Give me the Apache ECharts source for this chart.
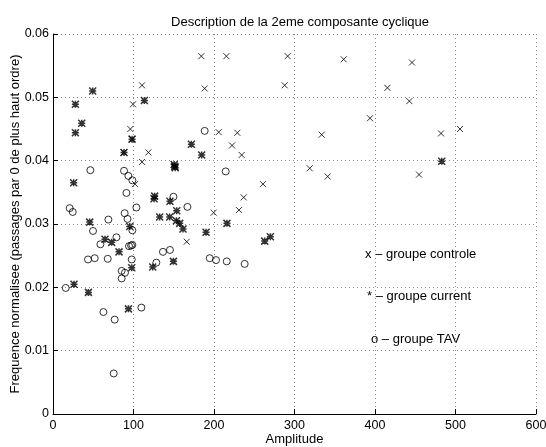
<!DOCTYPE html>
<html>
<head>
<meta charset="utf-8">
<script src="https://cdn.jsdelivr.net/npm/echarts@6/dist/echarts.min.js"></script>
<style>
  html, body { margin: 0; padding: 0; background: #fff; }
  #chart { width: 546px; height: 447px; }
</style>
</head>
<body>
<div id="chart"></div>
<script>
// x - groupe controle
const controleX = [184.3, 215.4, 188.4, 110.6, 99.4, 96.1, 98.2, 205.8, 229.0, 222.4, 234.4, 118.5, 110.6, 101.9, 260.9, 236.9, 199.6, 231.0, 166.1,
  291.5, 361.1, 446.0, 287.8, 415.4, 442.7, 393.8, 333.8, 482.0, 505.6, 318.9, 341.2, 454.7, 87.8];
const controleY = [0.0565, 0.0565, 0.0514, 0.0519, 0.0489, 0.0450, 0.0434, 0.0445, 0.0444, 0.0424, 0.0409, 0.0413, 0.0398, 0.0363, 0.0363, 0.0342, 0.0318, 0.0322, 0.0272,
  0.0565, 0.0560, 0.0555, 0.0519, 0.0515, 0.0494, 0.0467, 0.0441, 0.0443, 0.0450, 0.0388, 0.0375, 0.0378, 0.0413];

// * - groupe current
const currentX = [49.3, 27.8, 113.5, 35.7, 27.8, 98.2, 171.9, 184.7, 88.2, 150.5, 151.2, 151.8, 25.7, 126.3, 125.5, 145.3, 153.7, 45.6, 132.5, 144.9,
  153.3, 157.4, 161.5, 216.1, 95.3, 64.6, 72.9, 82.0, 97.8, 123.9, 149.6, 190.1, 263.0, 270.0, 26.1, 44.0, 93.7, 482.9];
const currentY = [0.0510, 0.0489, 0.0495, 0.0459, 0.0444, 0.0434, 0.0426, 0.0409, 0.0413, 0.0394, 0.0391, 0.0389, 0.0365, 0.0344, 0.0340, 0.0336, 0.0321, 0.0303, 0.0311, 0.0311,
  0.0305, 0.0301, 0.0292, 0.0301, 0.0296, 0.0276, 0.0271, 0.0256, 0.0231, 0.0232, 0.0241, 0.0287, 0.0273, 0.0280, 0.0205, 0.0192, 0.0166, 0.0399];

// o - groupe TAV
const tavX = [188.4, 46.4, 88.2, 93.6, 98.6, 214.5, 91.2, 149.6, 20.7, 24.5, 89.0, 103.6, 167.0, 92.6, 68.8, 49.7, 98.6, 58.9, 78.8, 94.4, 98.6,
  97.0, 43.5, 51.8, 68.0, 97.8, 85.3, 89.4, 85.3, 128.4, 136.6, 145.3, 194.7, 202.5, 215.8, 238.1, 15.8, 109.8, 62.6, 76.6, 75.4];
const tavY = [0.0447, 0.0385, 0.0384, 0.0376, 0.0369, 0.0383, 0.0349, 0.0343, 0.0325, 0.0319, 0.0317, 0.0326, 0.0327, 0.0308, 0.0307, 0.0289, 0.0290, 0.0268, 0.0279, 0.0265, 0.0267,
  0.0266, 0.0244, 0.0246, 0.0245, 0.0244, 0.0226, 0.0223, 0.0214, 0.0239, 0.0256, 0.0259, 0.0246, 0.0243, 0.0241, 0.0237, 0.0199, 0.0168, 0.0161, 0.0149, 0.0064];

const legendTexts = ["x \u2013 groupe controle", "* \u2013 groupe current", "o \u2013 groupe TAV"];

const FONT = '"Liberation Sans", Arial, sans-serif';
const zip = (xs, ys) => xs.map((x, i) => [x, ys[i]]);

const chart = echarts.init(document.getElementById("chart"));

const markerStyle = {
  color: "transparent",
  borderColor: "#000",
  borderWidth: 1,
};

const options = {
  animation: false,
  backgroundColor: "#fff",
  title: {
    text: "Description de la 2eme composante cyclique",
    left: 295,
    top: 11,
    textAlign: "center",
    textStyle: { fontFamily: FONT, fontSize: 13, fontWeight: "normal", color: "#000" },
  },
  grid: { left: 53, right: 10, top: 34, bottom: 33, outerBoundsMode: "none", containLabel: false },
  xAxis: {
    type: "value",
    min: 0,
    max: 600,
    interval: 100,
    name: "Amplitude",
    nameLocation: "middle",
    nameGap: 19,
    nameMoveOverlap: false,
    nameTextStyle: { fontFamily: FONT, fontSize: 13, color: "#000" },
    axisLine: { onZero: false, lineStyle: { color: "#000", width: 1 } },
    axisTick: { inside: true, length: 5, lineStyle: { color: "#000" } },
    axisLabel: { fontFamily: FONT, fontSize: 12.5, color: "#000", margin: 5 },
    splitLine: { show: true, lineStyle: { color: "#888", type: [1, 3], width: 1 } },
  },
  yAxis: {
    type: "value",
    min: 0,
    max: 0.06,
    interval: 0.01,
    name: "Frequence normalisee (passages par 0 de plus haut ordre)",
    nameLocation: "middle",
    nameGap: 31,
    nameMoveOverlap: false,
    nameTextStyle: { fontFamily: FONT, fontSize: 13, color: "#000" },
    axisLine: { show: true, onZero: false, lineStyle: { color: "#000", width: 1 } },
    axisTick: { show: true, inside: true, length: 5, lineStyle: { color: "#000" } },
    axisLabel: {
      fontFamily: FONT,
      fontSize: 12.5,
      color: "#000",
      margin: 4,
      formatter: (v) => (v === 0 ? "0" : v.toFixed(2)),
    },
    splitLine: { show: true, lineStyle: { color: "#888", type: [1, 3], width: 1 } },
  },
  series: [
    {
      name: "controle",
      type: "scatter",
      symbol: "path://M0,0L10,10M10,0L0,10",
      symbolSize: 6,
      itemStyle: markerStyle,
      data: zip(controleX, controleY),
    },
    {
      name: "current",
      type: "scatter",
      symbol: "path://M0,0L10,10M10,0L0,10M5,0L5,10M0,5L10,5",
      symbolSize: 7,
      itemStyle: { color: "transparent", borderColor: "#000", borderWidth: 1.5 },
      data: zip(currentX, currentY),
    },
    {
      name: "TAV",
      type: "scatter",
      symbol: "circle",
      symbolSize: 7,
      itemStyle: markerStyle,
      data: zip(tavX, tavY),
    },
  ],
  graphic: [
    { type: "text", x: 365, y: 254, style: { text: legendTexts[0], fill: "#000", font: "13px " + FONT, verticalAlign: "middle" } },
    { type: "text", x: 367, y: 296, style: { text: legendTexts[1], fill: "#000", font: "13px " + FONT, verticalAlign: "middle" } },
    { type: "text", x: 371, y: 339, style: { text: legendTexts[2], fill: "#000", font: "13px " + FONT, verticalAlign: "middle" } },
  ],
};

chart.setOption(options);
</script>
</body>
</html>
